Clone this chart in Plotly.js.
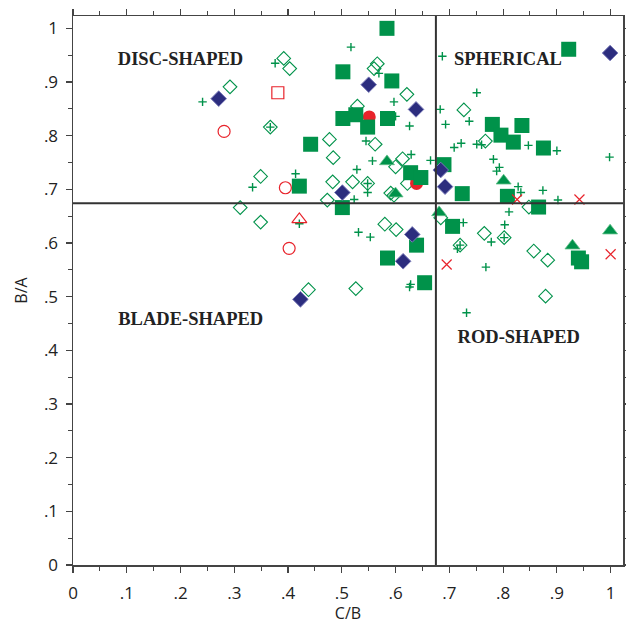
<!DOCTYPE html>
<html>
<head>
<meta charset="utf-8">
<script src="https://cdn.plot.ly/plotly-3.0.1.min.js"></script>
<style>html,body{margin:0;padding:0;background:#fff;}#chart{width:626px;height:624px;}</style>
</head>
<body>
<div id="chart"></div>
<script>
// ---- Data (x = C/B, y = B/A) ----
var openDiamondX = [0.392,0.403,0.292,0.367,0.477,0.484,0.566,0.560,0.621,0.529,0.562,0.613,0.600,0.727,0.767,0.848,0.802,0.765,0.857,0.883,0.879,0.622,0.483,0.520,0.548,0.591,0.597,0.473,0.684,0.580,0.601,0.720,0.526,0.349,0.311,0.349,0.438];
var openDiamondY = [0.944,0.925,0.891,0.816,0.793,0.759,0.934,0.925,0.877,0.855,0.784,0.757,0.742,0.848,0.790,0.667,0.610,0.618,0.585,0.568,0.501,0.711,0.714,0.714,0.711,0.693,0.689,0.680,0.647,0.635,0.625,0.596,0.515,0.724,0.666,0.639,0.513];

var plusX = [0.376,0.241,0.367,0.517,0.569,0.597,0.600,0.626,0.545,0.557,0.629,0.665,0.528,0.687,0.693,0.683,0.751,0.737,0.709,0.722,0.751,0.847,0.900,0.998,0.782,0.793,0.788,0.828,0.833,0.874,0.902,0.811,0.803,0.802,0.778,0.768,0.548,0.548,0.523,0.726,0.531,0.553,0.720,0.715,0.628,0.626,0.732,0.414,0.334,0.421,0.760];
var plusY = [0.935,0.863,0.816,0.965,0.916,0.863,0.836,0.818,0.790,0.753,0.765,0.754,0.737,0.948,0.821,0.849,0.880,0.827,0.778,0.786,0.784,0.782,0.772,0.760,0.756,0.741,0.734,0.705,0.694,0.698,0.680,0.658,0.634,0.610,0.602,0.555,0.711,0.694,0.681,0.638,0.620,0.611,0.596,0.589,0.523,0.518,0.470,0.729,0.704,0.636,0.783];

var squareX = [0.584,0.502,0.593,0.502,0.526,0.548,0.585,0.442,0.922,0.780,0.796,0.819,0.835,0.875,0.690,0.628,0.647,0.724,0.808,0.866,0.501,0.421,0.706,0.639,0.585,0.654,0.940,0.946];
var squareY = [1.000,0.919,0.902,0.832,0.839,0.816,0.832,0.784,0.961,0.821,0.801,0.788,0.819,0.777,0.746,0.731,0.722,0.692,0.687,0.667,0.666,0.706,0.631,0.596,0.572,0.526,0.572,0.565];

var navyX = [0.271,0.550,0.638,0.999,0.684,0.692,0.501,0.631,0.614,0.423];
var navyY = [0.869,0.895,0.849,0.954,0.736,0.705,0.694,0.616,0.566,0.495];

var triX = [0.584,0.600,0.801,0.681,0.999,0.929];
var triY = [0.752,0.692,0.716,0.657,0.623,0.595];

var redOpenCircleX = [0.281,0.395,0.402];
var redOpenCircleY = [0.808,0.703,0.590];
var redFilledCircleX = [0.551,0.639];
var redFilledCircleY = [0.835,0.711];
var redSquareX = [0.381];
var redSquareY = [0.880];
var redTriX = [0.421];
var redTriY = [0.644];
var redXX = [0.826,0.942,1.000,0.695];
var redXY = [0.681,0.681,0.579,0.560];

var thresholdCB = 0.675;
var thresholdBA = 0.674;

var tickVals = [0,0.1,0.2,0.3,0.4,0.5,0.6,0.7,0.8,0.9,1];
var tickText = ['0','.1','.2','.3','.4','.5','.6','.7','.8','.9','1'];

var regionText = ['DISC-SHAPED','SPHERICAL','BLADE-SHAPED','ROD-SHAPED'];
var regionX = [0.200,0.809,0.219,0.829];
var regionY = [0.940,0.940,0.455,0.423];

// ---- Styles ----
var GREEN = '#00924a', NAVY = '#2c2d7e', RED = '#e8232b';

var traces = [
  {x: openDiamondX, y: openDiamondY, type:'scatter', mode:'markers',
   marker:{symbol:'diamond-open', size:10.5, color:GREEN, line:{width:1.1, color:GREEN}}},
  {x: plusX, y: plusY, type:'scatter', mode:'markers',
   marker:{symbol:'cross-thin-open', size:6, color:GREEN, line:{width:1.4, color:GREEN}}},
  {x: redFilledCircleX, y: redFilledCircleY, type:'scatter', mode:'markers',
   marker:{symbol:'circle', size:13, color:RED, line:{width:0}}},
  {x: squareX, y: squareY, type:'scatter', mode:'markers',
   marker:{symbol:'square', size:15, color:GREEN, line:{width:0}}},
  {x: triX, y: triY, type:'scatter', mode:'markers',
   marker:{symbol:'triangle-up', size:13, color:GREEN, line:{width:0.8, color:'#5fbf88'}}},
  {x: navyX, y: navyY, type:'scatter', mode:'markers',
   marker:{symbol:'diamond', size:12, color:NAVY, line:{width:1, color:'#7a7bb8'}}},
  {x: redOpenCircleX, y: redOpenCircleY, type:'scatter', mode:'markers',
   marker:{symbol:'circle-open', size:12, color:RED, line:{width:1.2, color:RED}}},
  {x: redSquareX, y: redSquareY, type:'scatter', mode:'markers',
   marker:{symbol:'square-open', size:12, color:RED, line:{width:1.2, color:RED}}},
  {x: redTriX, y: redTriY, type:'scatter', mode:'markers',
   marker:{symbol:'triangle-up-open', size:13, color:RED, line:{width:1.2, color:RED}}},
  {x: redXX, y: redXY, type:'scatter', mode:'markers',
   marker:{symbol:'x-thin-open', size:10, color:RED, line:{width:1.2, color:RED}}},
  {x: regionX, y: regionY, type:'scatter', mode:'text',
   text: regionText.map(function(t){return '<b>'+t+'</b>';}),
   textfont:{family:'Liberation Serif, Times New Roman, serif', size:18.5, color:'#222'},
   textposition:'middle center', hoverinfo:'skip'}
];

var axisCommon = {
  range:[0,1.023],
  tickmode:'array', tickvals: tickVals, ticktext: tickText,
  ticks:'outside', ticklen:6, tickwidth:1.2, tickcolor:'#444',
  minor:{dtick:0.05, ticks:'outside', ticklen:4, tickwidth:1, tickcolor:'#444'},
  showline:true, linecolor:'#444', linewidth:1.5, mirror:'ticks',
  showgrid:false, zeroline:false,
  tickfont:{family:'Open Sans, Lato, sans-serif', size:17, color:'#222'}
};

var layout = {
  width:626, height:624,
  margin:{l:73, r:3, t:16, b:59},
  paper_bgcolor:'#fff', plot_bgcolor:'#fff',
  showlegend:false,
  xaxis: Object.assign({}, axisCommon, {
    ticklabelstandoff:6,
    title:{text:'C/B', font:{family:'Open Sans, Lato, sans-serif', size:16, color:'#222'}, standoff:4}
  }),
  yaxis: Object.assign({}, axisCommon, {
    ticklabelstandoff:4,
    title:{text:'B/A', font:{family:'Open Sans, Lato, sans-serif', size:16, color:'#222'}, standoff:12}
  }),
  shapes:[
    {type:'line', xref:'x', yref:'paper', x0:thresholdCB, x1:thresholdCB, y0:0, y1:1, line:{color:'#333', width:2}},
    {type:'line', xref:'paper', yref:'y', x0:0, x1:1, y0:thresholdBA, y1:thresholdBA, line:{color:'#333', width:2}}
  ]
};

Plotly.newPlot('chart', traces, layout, {displayModeBar:false, staticPlot:true});
</script>
</body>
</html>
